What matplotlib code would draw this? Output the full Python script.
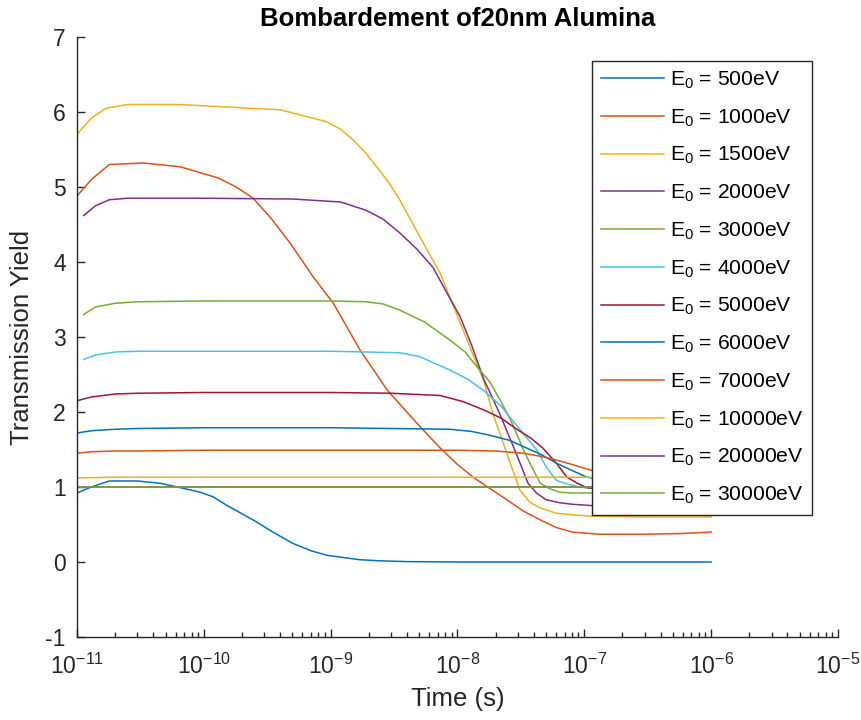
import matplotlib
matplotlib.use("Agg")
import matplotlib.pyplot as plt

plt.rcParams['font.family'] = ['Liberation Sans', 'DejaVu Sans']
plt.rcParams['mathtext.fontset'] = 'custom'
plt.rcParams['mathtext.rm'] = 'Liberation Sans'
plt.rcParams['mathtext.it'] = 'Liberation Sans'
plt.rcParams['mathtext.default'] = 'regular'
plt.rcParams['axes.unicode_minus'] = False

energies = [500, 1000, 1500, 2000, 3000, 4000, 5000, 6000, 7000, 10000, 20000, 30000]

# time (s) and transmission yield for each beam energy
t500 = [1.0e-11, 1.3e-11, 1.8e-11, 3e-11, 4.5e-11, 6.2e-11, 9.4e-11, 1.18e-10, 1.5e-10, 2.45e-10, 3.5e-10, 5e-10, 7e-10, 9.3e-10, 1.7e-9, 2.5e-9, 4e-9, 1e-8, 1e-7, 1e-6]
y500 = [0.92, 1.0, 1.08, 1.08, 1.05, 1.0, 0.93, 0.87, 0.76, 0.56, 0.4, 0.25, 0.15, 0.09, 0.03, 0.015, 0.005, 0.0, 0.0, 0.0]

t1000 = [1.0e-11, 1.3e-11, 1.8e-11, 3.3e-11, 6.5e-11, 1.3e-10, 1.8e-10, 2.45e-10, 3.4e-10, 4.8e-10, 7.3e-10, 1.05e-9, 1.7e-9, 2.8e-9, 4.5e-9, 5.8e-9, 7.3e-9, 1e-8, 1.33e-8, 1.8e-8, 2.45e-8, 3.3e-8, 4.5e-8, 6e-8, 8e-8, 1.3e-7, 3e-7, 6e-7, 1e-6]
y1000 = [4.88, 5.1, 5.3, 5.32, 5.27, 5.12, 5.0, 4.85, 4.58, 4.25, 3.8, 3.45, 2.83, 2.29, 1.9, 1.7, 1.52, 1.3, 1.13, 0.98, 0.83, 0.68, 0.56, 0.46, 0.4, 0.37, 0.37, 0.38, 0.4]

t1500 = [1.02e-11, 1.3e-11, 1.7e-11, 2.5e-11, 6.5e-11, 2.3e-10, 4e-10, 9.3e-10, 1.2e-9, 1.5e-9, 1.9e-9, 2.4e-9, 2.9e-9, 3.5e-9, 5e-9, 7.3e-9, 1.05e-8, 1.3e-8, 1.6e-8, 1.9e-8, 2.45e-8, 3.1e-8, 3.7e-8, 4.5e-8, 6e-8, 1.1e-7, 3e-7, 1e-6]
y1500 = [5.72, 5.92, 6.05, 6.1, 6.1, 6.05, 6.03, 5.87, 5.77, 5.63, 5.45, 5.23, 5.05, 4.83, 4.35, 3.85, 3.19, 2.8, 2.43, 1.98, 1.45, 0.96, 0.8, 0.72, 0.65, 0.61, 0.6, 0.6]

t2000 = [1.13e-11, 1.4e-11, 1.8e-11, 2.5e-11, 1e-10, 5e-10, 1.2e-9, 1.9e-9, 2.6e-9, 3.5e-9, 4.8e-9, 6.4e-9, 8e-9, 1.05e-8, 1.3e-8, 1.6e-8, 2.15e-8, 2.9e-8, 3.6e-8, 4.2e-8, 5e-8, 6.4e-8, 8e-8, 1.2e-7, 3e-7, 1e-6]
y2000 = [4.62, 4.75, 4.83, 4.85, 4.85, 4.84, 4.8, 4.69, 4.57, 4.39, 4.17, 3.93, 3.63, 3.27, 2.88, 2.45, 1.98, 1.45, 1.05, 0.92, 0.83, 0.79, 0.77, 0.75, 0.74, 0.74]

t3000 = [1.13e-11, 1.4e-11, 2e-11, 3e-11, 1e-10, 1e-9, 1.9e-9, 2.6e-9, 3.5e-9, 5.5e-9, 8.7e-9, 1.15e-8, 1.43e-8, 1.8e-8, 2.17e-8, 2.7e-8, 3.3e-8, 3.9e-8, 4.5e-8, 5.3e-8, 6.4e-8, 8e-8, 1.1e-7, 3e-7, 1e-6]
y3000 = [3.3, 3.4, 3.45, 3.47, 3.48, 3.48, 3.47, 3.44, 3.36, 3.2, 2.96, 2.8, 2.6, 2.4, 2.16, 1.85, 1.5, 1.25, 1.05, 0.98, 0.93, 0.92, 0.92, 0.92, 0.92]

t4000 = [1.13e-11, 1.4e-11, 2e-11, 3e-11, 1e-10, 1e-9, 3.5e-9, 5e-9, 8.7e-9, 1.2e-8, 1.6e-8, 2.2e-8, 3e-8, 3.5e-8, 4.2e-8, 5e-8, 6e-8, 7e-8, 9e-8, 1.2e-7, 3e-7, 1e-6]
y4000 = [2.7, 2.76, 2.8, 2.81, 2.81, 2.81, 2.79, 2.74, 2.56, 2.44, 2.29, 2.08, 1.8, 1.66, 1.5, 1.27, 1.09, 1.05, 1.0, 0.98, 0.97, 0.97]

t5000 = [1e-11, 1.3e-11, 2e-11, 3e-11, 1e-10, 1e-9, 3e-9, 7.3e-9, 1.1e-8, 1.6e-8, 2.2e-8, 3e-8, 3.8e-8, 4.7e-8, 6e-8, 7.3e-8, 8.8e-8, 1.05e-7, 2e-7, 1e-6]
y5000 = [2.15, 2.2, 2.24, 2.25, 2.26, 2.26, 2.25, 2.22, 2.14, 2.03, 1.92, 1.76, 1.65, 1.52, 1.32, 1.13, 1.05, 0.99, 0.95, 0.95]

t6000 = [1e-11, 1.3e-11, 2e-11, 3e-11, 1e-10, 1e-9, 8.7e-9, 1.3e-8, 1.8e-8, 2.6e-8, 3.5e-8, 4.6e-8, 6e-8, 8e-8, 1.05e-7, 2e-7, 1e-6]
y6000 = [1.72, 1.75, 1.77, 1.78, 1.79, 1.79, 1.77, 1.74, 1.69, 1.62, 1.52, 1.43, 1.32, 1.22, 1.13, 1.05, 1.03]

t7000 = [1e-11, 1.3e-11, 2e-11, 3e-11, 1e-10, 1e-9, 1e-8, 2e-8, 3.3e-8, 4.5e-8, 6e-8, 8e-8, 1.1e-7, 2e-7, 1e-6]
y7000 = [1.45, 1.47, 1.48, 1.48, 1.49, 1.49, 1.49, 1.48, 1.45, 1.41, 1.36, 1.3, 1.23, 1.15, 1.12]

t10000 = [1e-11, 2e-11, 1e-9, 1e-7, 1e-6]
y10000 = [1.12, 1.13, 1.13, 1.13, 1.13]

t20000 = [1e-11, 1e-9, 1e-6]
y20000 = [1.0, 1.0, 1.0]

t30000 = [1e-11, 1e-9, 1e-6]
y30000 = [0.995, 0.995, 0.995]

times = [t500, t1000, t1500, t2000, t3000, t4000, t5000, t6000, t7000, t10000, t20000, t30000]
yields = [y500, y1000, y1500, y2000, y3000, y4000, y5000, y6000, y7000, y10000, y20000, y30000]

# MATLAB default colour order
colors = ['#0072BD', '#D95319', '#EDB120', '#7E2F8E', '#77AC30', '#4DBEEE', '#A2142F']

fig = plt.figure(figsize=(8.62, 7.2), dpi=100)
ax = fig.add_axes([0.0893, 0.1153, 0.8828, 0.8333])

for i, (e, t, y) in enumerate(zip(energies, times, yields)):
    ax.plot(t, y, color=colors[i % len(colors)], lw=1.1, label='E$_0$ = %deV' % e)

ax.set_xscale('log')
ax.set_xlim(1e-11, 1e-5)
ax.set_ylim(-1, 7)
ax.set_yticks(range(-1, 8))

ax.spines['top'].set_visible(False)
ax.spines['right'].set_visible(False)
for s in ['left', 'bottom']:
    ax.spines[s].set_color('#262626')
    ax.spines[s].set_linewidth(1.0)
ax.tick_params(which='both', direction='in', colors='#262626', labelsize=16.5, width=1.0)
ax.tick_params(which='major', length=6)
ax.tick_params(which='minor', length=3.5)
ax.tick_params(axis='x', pad=12)
ax.tick_params(axis='y', pad=8)

ax.set_xlabel('Time (s)', fontsize=18.5, color='#262626', labelpad=6)
ax.set_ylabel('Transmission Yield', fontsize=18.5, color='#262626', labelpad=8)
ax.set_title('Bombardement of20nm Alumina', fontsize=18.5, fontweight='bold', pad=8)

leg = ax.legend(loc='upper left', bbox_to_anchor=(0.677, 0.96), borderaxespad=0,
                fontsize=15.2, handlelength=3.0, handletextpad=0.3, labelspacing=0.78,
                fancybox=False, framealpha=1, edgecolor='#262626', borderpad=0.4)
leg.get_frame().set_linewidth(1.0)

fig.savefig('out.png', dpi=100)
